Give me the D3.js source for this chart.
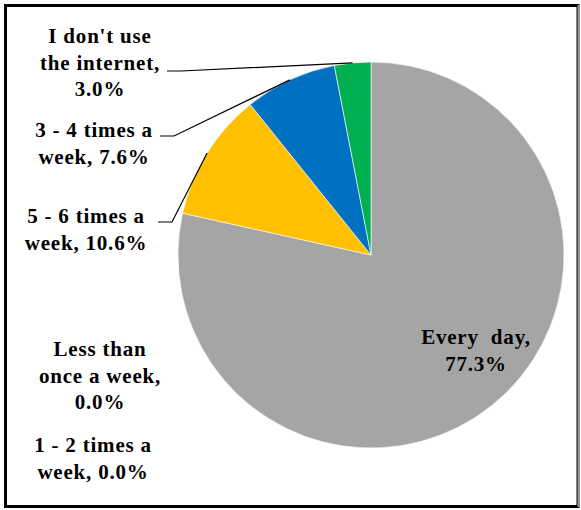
<!DOCTYPE html>
<html>
<head>
<meta charset="utf-8">
<script src="https://cdn.jsdelivr.net/npm/d3@7"></script>
<style>
  body { margin: 0; background: #fff; }
</style>
</head>
<body>
<div id="chart"></div>
<script>
// data (pie order, clockwise from 12 o'clock)
var categories = ["Every day", "Less than once a week", "1 - 2 times a week", "5 - 6 times a week", "3 - 4 times a week", "I don't use the internet"];
var values = [77.3, 0.0, 0.0, 10.6, 7.6, 3.0];
var colors = ["#A5A5A5", "#ED7D31", "#5B9BD5", "#FFC000", "#0070C0", "#00B050"];

// label lines as shown in the picture
var labelLines = [
  ["Every  day,", "77.3%"],
  ["Less than", "once a week,", "0.0%"],
  ["1 - 2 times a", "week, 0.0%"],
  ["5 - 6 times a", "week, 10.6%"],
  ["3 - 4 times a", "week, 7.6%"],
  ["I don't use", "the internet,", "3.0%"]
];

var width = 581, height = 510;
var cx = 371, cy = 255, radius = 193;
var lineH = 26.5;

// label anchor (centre x, first baseline) and leader start, per slice
var labelLayout = [
  { x: 476, y: 344 },
  { x: 100, y: 356 },
  { x: 93, y: 452 },
  { x: 86, y: 223, lead: [158, 222] },
  { x: 94, y: 137, lead: [160, 136] },
  { x: 100, y: 43, lead: [167, 71] }
];

var svg = d3.select("#chart").append("svg")
  .attr("width", width)
  .attr("height", height);

svg.append("rect")
  .attr("width", width).attr("height", height)
  .attr("fill", "#fff");

// frame
svg.append("rect")
  .attr("x", 5.5).attr("y", 5.5)
  .attr("width", 572.5).attr("height", 501)
  .attr("fill", "none")
  .attr("stroke", "#000")
  .attr("stroke-width", 3);
svg.append("line")
  .attr("x1", 578.5).attr("x2", 578.5)
  .attr("y1", 5).attr("y2", 507)
  .attr("stroke", "#9a9a9a")
  .attr("stroke-width", 2);

var pie = d3.pie().sort(null).value(function (d) { return d; });
var arcs = pie(values);

var arc = d3.arc().innerRadius(0).outerRadius(radius);
var outer = d3.arc().innerRadius(radius).outerRadius(radius);

var g = svg.append("g").attr("transform", "translate(" + cx + "," + cy + ")");

g.selectAll("path.slice")
  .data(arcs.filter(function (d) { return d.value > 0; }))
  .enter().append("path")
  .attr("class", "slice")
  .attr("d", arc)
  .attr("fill", function (d) { return colors[d.index]; })
  .attr("stroke", "#fff")
  .attr("stroke-width", 0.6);

// leader lines
arcs.forEach(function (d, i) {
  var L = labelLayout[i];
  if (!L.lead) return;
  var c = outer.centroid(d);
  var pts = [L.lead, [L.lead[0] + 14, L.lead[1]], [cx + c[0], cy + c[1]]];
  svg.append("path")
    .attr("d", d3.line()(pts))
    .attr("fill", "none")
    .attr("stroke", "#000")
    .attr("stroke-width", 1.2);
});

// labels (Times-like bold, slightly spaced out)
arcs.forEach(function (d, i) {
  var L = labelLayout[i];
  var t = svg.append("text")
    .attr("x", L.x).attr("y", L.y)
    .style("font-family", "'Liberation Serif', 'Times New Roman', serif")
    .style("font-weight", "bold")
    .style("font-size", "21px")
    .style("letter-spacing", "0.8px")
    .style("white-space", "pre")
    .attr("fill", "#000")
    .attr("text-anchor", "middle");
  labelLines[i].forEach(function (s, k) {
    t.append("tspan").attr("x", L.x).attr("y", L.y + k * lineH).text(s);
  });
});
</script>
</body>
</html>
